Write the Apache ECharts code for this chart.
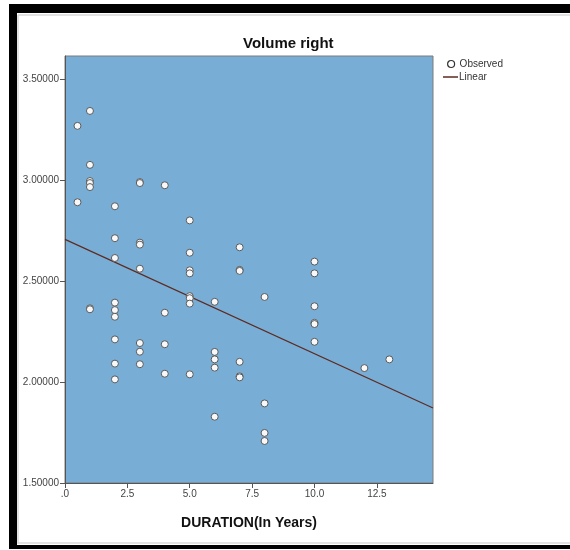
<!DOCTYPE html>
<html>
<head>
<meta charset="utf-8">
<script src="https://cdn.jsdelivr.net/npm/echarts@6/dist/echarts.min.js"></script>
<style>html,body{margin:0;padding:0;background:#fff;}#c{width:570px;height:550px;}</style>
</head>
<body>
<div id="c"></div>
<script>
// Observed points (DURATION in years, Volume right)
var durations = [0.5,0.5,
  1,1,1,1,1,1,1,
  2,2,2,2,2,2,2,2,2,
  3,3,3,3,3,3,3,3,
  4,4,4,4,
  5,5,5,5,5,5,5,5,
  6,6,6,6,6,
  7,7,7,7,7,7,
  8,8,8,8,
  10,10,10,10,10,10,
  12,13];
var volumes = [3.268,2.890,
  3.342,3.075,2.995,2.985,2.965,2.365,2.360,
  2.870,2.712,2.614,2.393,2.356,2.323,2.211,2.091,2.013,
  2.990,2.985,2.690,2.680,2.561,2.193,2.150,2.088,
  2.974,2.343,2.187,2.041,
  2.800,2.640,2.553,2.538,2.425,2.415,2.388,2.038,
  2.397,2.149,2.112,2.071,1.828,
  2.667,2.555,2.550,2.100,2.028,2.023,
  2.421,1.894,1.748,1.708,
  2.596,2.538,2.375,2.293,2.287,2.199,
  2.069,2.112];
// Linear fit line end points
var fitX = [0, 14.75];
var fitY = [2.706, 1.871];
var xTicks = [0, 2.5, 5, 7.5, 10, 12.5];
var yTicks = [1.5, 2.0, 2.5, 3.0, 3.5];

var observed = durations.map(function(d, i){ return [d, volumes[i]]; });
var fitLine = fitX.map(function(x, i){ return [x, fitY[i]]; });

var chart = echarts.init(document.getElementById('c'), null, {renderer:'canvas'});
var FONT = 'Liberation Sans, Arial, sans-serif';
chart.setOption({
  animation: false,
  backgroundColor: '#ffffff',
  textStyle: {fontFamily: FONT},
  title: {
    text: 'Volume right',
    left: 243, top: 36, padding: 0,
    textStyle: {fontSize: 15, fontWeight: 'bold', color: '#111', fontFamily: FONT}
  },
  legend: [{
    data: [{name: 'Observed', icon: 'circle',
      itemStyle: {color: '#ffffff', borderColor: '#333', borderWidth: 1.2}}],
    left: 447, top: 59, padding: 0,
    itemWidth: 7, itemHeight: 7, itemGap: 4,
    textStyle: {fontSize: 10, color: '#333', fontFamily: FONT, padding: [0,0,0,0]}
  },{
    data: [{name: 'Linear', icon: 'rect'}],
    left: 443, top: 72, padding: 0,
    itemWidth: 15, itemHeight: 1.5,
    textStyle: {fontSize: 10, color: '#333', fontFamily: FONT, padding: [0,0,0,-4]}
  }],
  grid: {
    left: 65, right: 137, top: 56, bottom: 67,
    show: true, backgroundColor: '#78aed6', borderColor: '#7a7a7a', borderWidth: 1,
    containLabel: false
  },
  xAxis: {
    type: 'value', min: 0, max: 14.75,
    name: 'DURATION(In Years)', nameLocation: 'middle', nameGap: 33,
    nameTextStyle: {fontSize: 14, fontWeight: 'bold', color: '#111', fontFamily: FONT},
    axisLine: {show: true, onZero: false, lineStyle: {color: '#555', width: 1}},
    axisTick: {show: true, inside: false, length: 5, customValues: xTicks, lineStyle: {color: '#555'}},
    axisLabel: {customValues: xTicks, fontSize: 10, color: '#444', margin: 6,
      formatter: function(v){ return v === 0 ? '.0' : v.toFixed(1); }},
    splitLine: {show: false}
  },
  yAxis: {
    type: 'value', min: 1.5, max: 3.614,
    axisLine: {show: true, lineStyle: {color: '#555', width: 1}},
    axisTick: {show: true, inside: false, length: 5, customValues: yTicks, lineStyle: {color: '#555'}},
    axisLabel: {customValues: yTicks, fontSize: 10, color: '#444', margin: 6,
      formatter: function(v){ return v.toFixed(5); }},
    splitLine: {show: false}
  },
  series: [{
    name: 'Observed', type: 'scatter', data: observed,
    symbol: 'circle', symbolSize: 7,
    itemStyle: {color: '#f8f8f8', borderColor: '#5a5a5a', borderWidth: 1, opacity: 1},
    z: 3
  },{
    name: 'Linear', type: 'line', data: fitLine,
    symbol: 'none', showSymbol: false,
    lineStyle: {color: '#5e2a20', width: 1.2},
    itemStyle: {color: '#5e2a20'},
    z: 2
  }],
  graphic: [
    {type:'rect', shape:{x:9, y:4, width:561, height:9}, style:{fill:'#000'}, silent:true},
    {type:'rect', shape:{x:9, y:4, width:8, height:545}, style:{fill:'#000'}, silent:true},
    {type:'rect', shape:{x:9, y:545, width:561, height:4}, style:{fill:'#000'}, silent:true},
    {type:'line', shape:{x1:18, y1:15, x2:570, y2:15}, style:{stroke:'#d8d8d8', lineWidth:1.5}, silent:true},
    {type:'line', shape:{x1:18, y1:15, x2:18, y2:544}, style:{stroke:'#d8d8d8', lineWidth:1.5}, silent:true},
    {type:'line', shape:{x1:18, y1:543, x2:570, y2:543}, style:{stroke:'#d8d8d8', lineWidth:1.5}, silent:true}
  ]
});
</script>
</body>
</html>
